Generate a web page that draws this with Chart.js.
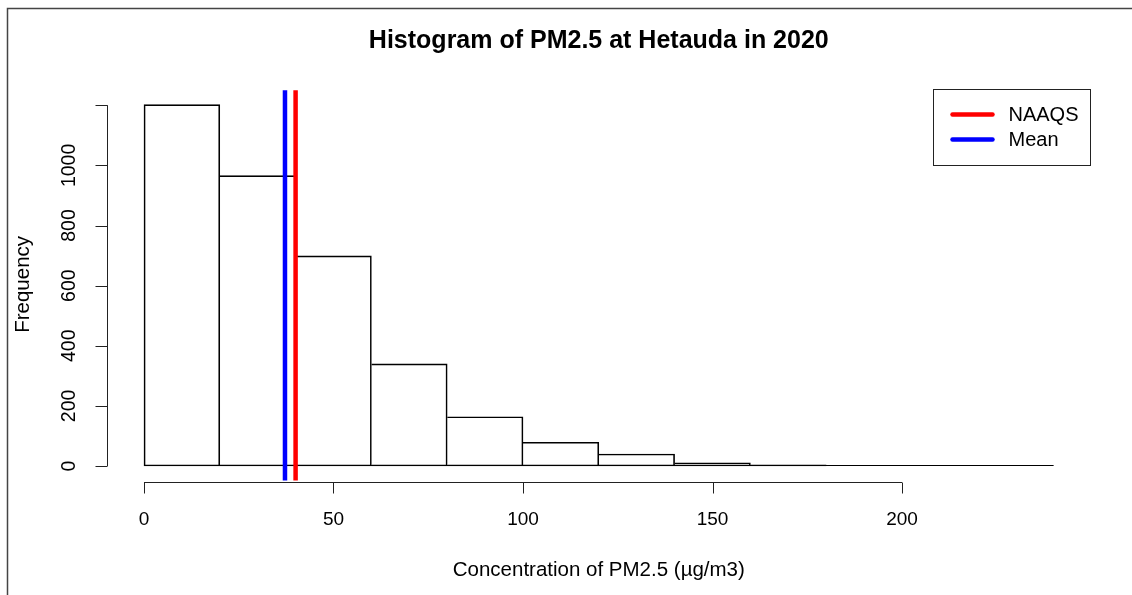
<!DOCTYPE html>
<html>
<head>
<meta charset="utf-8">
<script src="https://cdn.jsdelivr.net/npm/chart.js@4.4.0/dist/chart.umd.min.js"></script>
<style>
    html, body { margin: 0; padding: 0; background: #fff; }
    #wrap { width: 1132px; height: 595px; }
</style>
</head>
<body>
<div id="wrap"><canvas id="chart" width="1132" height="595"></canvas></div>
<script>
// histogram bins (µg/m3) and counts
const binEdges = [0, 20, 40, 60, 80, 100, 120, 140, 160, 180, 200, 220, 240];
const counts = [1202, 966, 699, 340, 164, 79, 40, 11, 4, 0, 0, 0];
const xTicks = [0, 50, 100, 150, 200];
const yTicks = [0, 200, 400, 600, 800, 1000, 1200];
const yTickLabels = ['0', '200', '400', '600', '800', '1000', ''];
const naaqsValue = 40;
const meanValue = 37.2;
const titleText = 'Histogram of PM2.5 at Hetauda in 2020';
const xLabel = 'Concentration of PM2.5 (µg/m3)';
const yLabel = 'Frequency';

const FONT = '"Liberation Sans", Arial, sans-serif';

// R style axis limits: data range stretched by 4% on each side
const xLo = binEdges[0], xHi = binEdges[binEdges.length - 1];
const yLo = 0, yHi = Math.max(...counts);
const xMin = xLo - 0.04 * (xHi - xLo), xMax = xHi + 0.04 * (xHi - xLo);
const yMin = yLo - 0.04 * (yHi - yLo), yMax = yHi + 0.04 * (yHi - yLo);

const barData = counts.map((c, i) => ({ x: (binEdges[i] + binEdges[i + 1]) / 2, y: c }));

const rPlot = {
    id: 'rPlot',
    beforeDraw(chart) {
        const ctx = chart.ctx;
        ctx.save();
        ctx.fillStyle = '#fff';
        ctx.fillRect(0, 0, chart.width, chart.height);
        // frame of the screenshot
        ctx.strokeStyle = '#444';
        ctx.lineWidth = 1.5;
        ctx.beginPath();
        ctx.moveTo(7.5, chart.height);
        ctx.lineTo(7.5, 8.5);
        ctx.lineTo(chart.width, 8.5);
        ctx.stroke();
        ctx.restore();
    },
    beforeDatasetsDraw(chart) {
        // zero-count bins still show as a flat line in R
        const { ctx, scales: { x, y } } = chart;
        ctx.save();
        ctx.strokeStyle = '#000';
        ctx.lineWidth = 1;
        const yy = Math.round(y.getPixelForValue(0)) - 0.5;
        ctx.beginPath();
        ctx.moveTo(x.getPixelForValue(xLo), yy);
        ctx.lineTo(x.getPixelForValue(xHi), yy);
        ctx.stroke();
        ctx.restore();
    },
    afterDraw(chart) {
        const { ctx, chartArea: area, scales: { x, y } } = chart;
        ctx.save();
        ctx.fillStyle = '#000';
        ctx.strokeStyle = '#222';
        ctx.lineWidth = 1;

        // title
        ctx.font = 'bold 25px ' + FONT;
        ctx.textAlign = 'center';
        ctx.textBaseline = 'middle';
        const cx = (area.left + area.right) / 2;
        ctx.fillText(titleText, cx, 41);

        // x axis
        const axY = Math.round(area.bottom + 1) + 0.5;
        ctx.beginPath();
        ctx.moveTo(x.getPixelForValue(xTicks[0]), axY);
        ctx.lineTo(x.getPixelForValue(xTicks[xTicks.length - 1]), axY);
        xTicks.forEach(v => {
            const px = Math.round(x.getPixelForValue(v)) + 0.5;
            ctx.moveTo(px, axY);
            ctx.lineTo(px, axY + 11);
        });
        ctx.stroke();
        ctx.font = '19px ' + FONT;
        xTicks.forEach(v => ctx.fillText(String(v), x.getPixelForValue(v), 520));
        ctx.font = '20.5px ' + FONT;
        ctx.fillText(xLabel, cx, 570);

        // y axis
        const axX = Math.round(area.left - 1) + 0.5;
        ctx.beginPath();
        ctx.moveTo(axX, y.getPixelForValue(yTicks[0]));
        ctx.lineTo(axX, y.getPixelForValue(yTicks[yTicks.length - 1]));
        yTicks.forEach(v => {
            const py = Math.round(y.getPixelForValue(v)) + 0.5;
            ctx.moveTo(axX, py);
            ctx.lineTo(axX - 12, py);
        });
        ctx.stroke();
        ctx.font = '19.5px ' + FONT;
        yTicks.forEach((v, i) => {
            if (!yTickLabels[i]) return;
            ctx.save();
            ctx.translate(70, y.getPixelForValue(v));
            ctx.rotate(-Math.PI / 2);
            ctx.fillText(yTickLabels[i], 0, 0);
            ctx.restore();
        });
        ctx.font = '20.5px ' + FONT;
        ctx.save();
        ctx.translate(23, (area.top + area.bottom) / 2 - 1);
        ctx.rotate(-Math.PI / 2);
        ctx.fillText(yLabel, 0, 0);
        ctx.restore();

        // legend, top right of plot region
        const lines = chart.data.datasets.filter(d => d.type === 'line');
        const boxR = Math.round(area.right) + 0.5, boxT = Math.round(area.top) - 0.5;
        const boxW = 157, boxH = 76;
        ctx.strokeStyle = '#222';
        ctx.lineWidth = 1;
        ctx.strokeRect(boxR - boxW, boxT, boxW, boxH);
        ctx.textAlign = 'left';
        ctx.font = '20px ' + FONT;
        lines.forEach((d, i) => {
            const ly = boxT + 25 + i * 25;
            ctx.strokeStyle = d.borderColor;
            ctx.lineWidth = 4.5;
            ctx.lineCap = 'round';
            ctx.beginPath();
            ctx.moveTo(boxR - boxW + 19, ly);
            ctx.lineTo(boxR - boxW + 59, ly);
            ctx.stroke();
            ctx.fillText(d.label, boxR - boxW + 75, ly + 1);
        });
        ctx.restore();
    }
};

new Chart(document.getElementById('chart'), {
    type: 'bar',
    data: {
        datasets: [
            {
                label: 'NAAQS',
                type: 'line',
                data: [{ x: naaqsValue, y: yMin }, { x: naaqsValue, y: yMax }],
                borderColor: '#ff0000',
                borderWidth: 4.5,
                borderCapStyle: 'round',
                pointRadius: 0,
                order: 1
            },
            {
                label: 'Mean',
                type: 'line',
                data: [{ x: meanValue, y: yMin }, { x: meanValue, y: yMax }],
                borderColor: '#0000ff',
                borderWidth: 4.5,
                borderCapStyle: 'round',
                pointRadius: 0,
                order: 1
            },
            {
                label: 'Frequency',
                data: barData,
                backgroundColor: 'rgba(255,255,255,0)',
                borderColor: '#000',
                borderWidth: ctx => ({ top: 1, right: 1, bottom: 1, left: ctx.dataIndex === 0 ? 1 : 0 }),
                borderSkipped: false,
                barPercentage: 1,
                categoryPercentage: 1,
                order: 2
            }
        ]
    },
    options: {
        responsive: false,
        animation: false,
        devicePixelRatio: 1,
        layout: { padding: { left: 107.6, right: 42, top: 90.2, bottom: 114.5 } },
        scales: {
            x: { type: 'linear', min: xMin, max: xMax, offset: false, display: false },
            y: { type: 'linear', min: yMin, max: yMax, display: false }
        },
        plugins: {
            legend: { display: false },
            tooltip: { enabled: false }
        }
    },
    plugins: [rPlot]
});
</script>
</body>
</html>
